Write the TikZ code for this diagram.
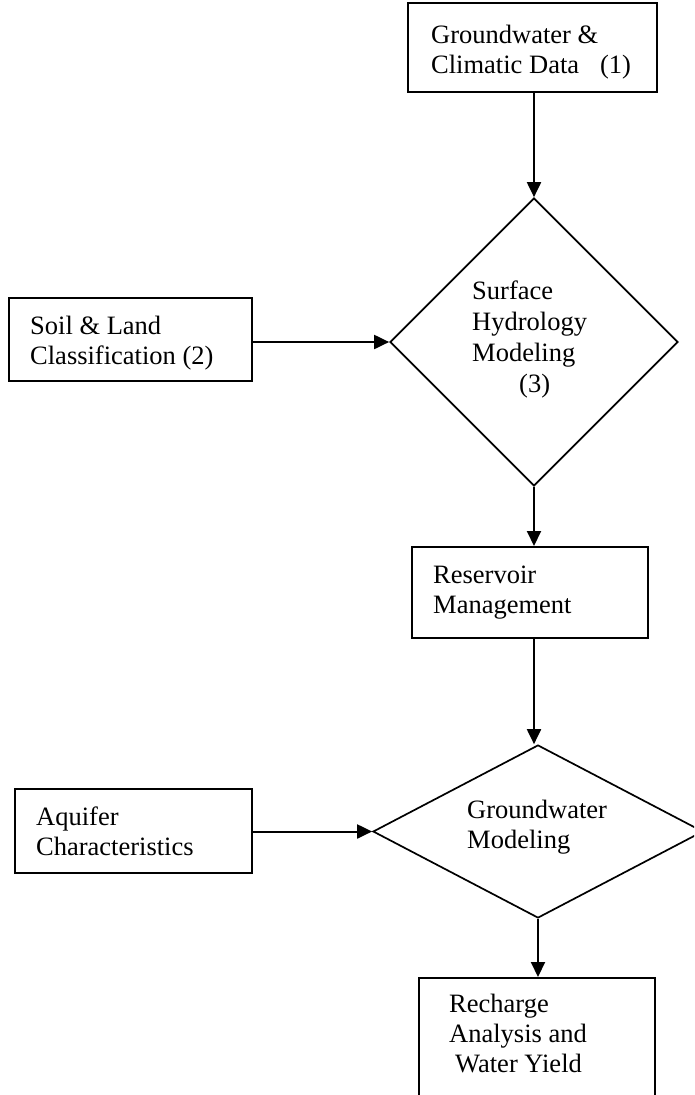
\documentclass[tikz,border=0pt]{standalone}
\usepackage{fontspec}
\setmainfont{Liberation Serif}
\usetikzlibrary{arrows.meta,shapes.geometric}
\begin{document}
\begin{tikzpicture}[x=1pt,y=-1pt,
  box/.style={draw, rectangle, line width=2pt, inner sep=0pt},
  dia/.style={draw, diamond, line width=1.7pt, inner sep=0pt},
  txt/.style={anchor=north west, inner sep=0pt, align=left, font=\fontsize{26.5}{30}\selectfont},
  arr/.style={line width=2pt, -{Triangle[length=15pt,width=14pt]}}]
\useasboundingbox (0,0) rectangle (694,1095);
\clip (0,0) rectangle (694,1095);
% boxes
\node[box, minimum width=249pt, minimum height=89pt] (b1) at (532.5,47.5) {};
\node[box, minimum width=243pt, minimum height=83pt] (b2) at (130.5,339.5) {};
\node[box, minimum width=236pt, minimum height=91pt] (b3) at (530,592.5) {};
\node[box, minimum width=237pt, minimum height=84pt] (b4) at (133.5,831) {};
\node[box, minimum width=236pt, minimum height=142pt] (b5) at (537,1049) {};
% diamonds
\node[dia, minimum width=288pt, minimum height=288pt] (d1) at (534,342) {};
\node[dia, minimum width=330pt, minimum height=173pt] (d2) at (538,831.5) {};
% texts
\node[txt] (t1) at (431,22) {\strut Groundwater \&\\Climatic Data\hspace{21pt}(1)};
\node[txt] (t2) at (30,313) {\strut Soil \& Land\\Classification (2)};
\node[txt, font=\fontsize{26.5}{31}\selectfont] (t3) at (472,278) {\strut Surface\\Hydrology\\Modeling\\\hspace{47pt}(3)};
\node[txt] (t4) at (433,562) {\strut Reservoir\\Management};
\node[txt] (t5) at (36,804) {\strut Aquifer\\Characteristics};
\node[txt] (t6) at (467,797) {\strut Groundwater\\Modeling};
\node[txt] (t7) at (449,991) {\strut Recharge\\Analysis and\\\hspace{6pt}Water Yield};
% connectors
\draw[arr] (d1.north |- b1.south) -- (d1.north);
\draw[arr] (b2.east |- d1.west) -- (d1.west);
\draw[arr] (d1.south) -- (d1.south |- b3.north);
\draw[arr] (d1.south |- b3.south) -- (d1.south |- d2.north);
\draw[arr] (b4.east |- d2.west) -- (d2.west);
\draw[arr] (d2.south) -- (d2.south |- b5.north);
\end{tikzpicture}
\end{document}
